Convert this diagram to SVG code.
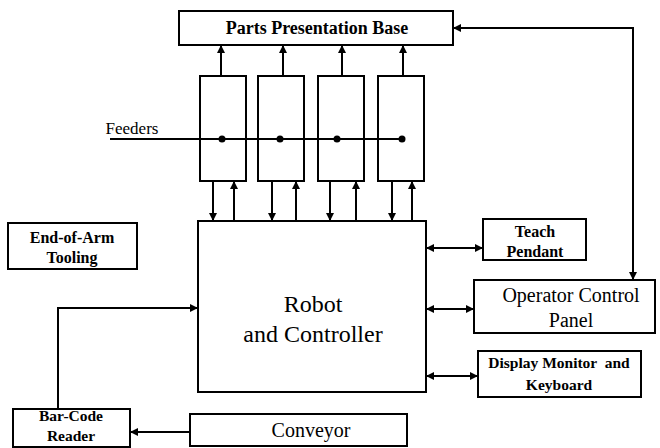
<svg xmlns="http://www.w3.org/2000/svg" width="660" height="448" viewBox="0 0 660 448">
<style>
.box{fill:#fff;stroke:#000;stroke-width:2}
.ln{fill:none;stroke:#000;stroke-width:2}
text{font-family:'Liberation Serif','Times New Roman',serif;font-weight:bold;fill:#000;text-anchor:middle}
.r{font-weight:normal}
</style>
<defs>
<marker id="ah" viewBox="0 0 10 10" refX="10" refY="5" markerWidth="4" markerHeight="4" orient="auto-start-reverse" markerUnits="strokeWidth">
<path d="M0,0 L10,5 L0,10 z" fill="#000"/>
</marker>
</defs>
<rect width="660" height="448" fill="#fff"/>
<g id="ppb"><rect class="box" x="179" y="11" width="274" height="34"/><text x="317" y="34" font-size="18">Parts Presentation Base</text></g>
<g id="feeder1"><rect class="box" x="200" y="76" width="46" height="105"/></g>
<g id="feeder2"><rect class="box" x="258" y="76" width="46" height="105"/></g>
<g id="feeder3"><rect class="box" x="318" y="76" width="46" height="105"/></g>
<g id="feeder4"><rect class="box" x="378" y="76" width="46" height="105"/></g>
<g id="feeders-label"><text class="r" x="132" y="134" font-size="17">Feeders</text></g>
<g id="robot"><rect class="box" x="198" y="221" width="228" height="171"/><text class="r" x="313" y="312" font-size="24">Robot</text><text class="r" x="313" y="342" font-size="24">and Controller</text></g>
<g id="eoat"><rect class="box" x="8" y="223" width="129" height="46"/><text x="72" y="243" font-size="16">End-of-Arm</text><text x="72" y="263" font-size="16">Tooling</text></g>
<g id="teach"><rect class="box" x="483" y="219" width="103" height="41"/><text x="535" y="237" font-size="16">Teach</text><text x="535" y="257" font-size="16">Pendant</text></g>
<g id="ocp"><rect class="box" x="474" y="280" width="181" height="53"/><text class="r" x="571" y="302" font-size="20">Operator Control</text><text class="r" x="571" y="327" font-size="20">Panel</text></g>
<g id="display"><rect class="box" x="478" y="351" width="163" height="46"/><text x="559" y="368" font-size="15.5" xml:space="preserve">Display Monitor  and</text><text x="559" y="390" font-size="15.5">Keyboard</text></g>
<g id="barcode"><rect class="box" x="13" y="409" width="117" height="38"/><text x="71" y="421" font-size="15.5">Bar-Code</text><text x="71" y="441" font-size="15.5">Reader</text></g>
<g id="conveyor"><rect class="box" x="190" y="414" width="217" height="32"/><text class="r" x="311" y="437" font-size="20">Conveyor</text></g>
<g id="connectors">
<line class="ln" x1="221" y1="76" x2="221" y2="45" marker-end="url(#ah)"/>
<line class="ln" x1="283" y1="76" x2="283" y2="45" marker-end="url(#ah)"/>
<line class="ln" x1="342" y1="76" x2="342" y2="45" marker-end="url(#ah)"/>
<line class="ln" x1="403" y1="76" x2="403" y2="45" marker-end="url(#ah)"/>
<line class="ln" x1="110" y1="139" x2="402" y2="139"/>
<circle cx="222" cy="139" r="3.5"/><circle cx="280" cy="139" r="3.5"/><circle cx="337" cy="139" r="3.5"/><circle cx="402" cy="139" r="3.5"/>
<line class="ln" x1="213" y1="181" x2="213" y2="221" marker-end="url(#ah)"/>
<line class="ln" x1="234" y1="221" x2="234" y2="181" marker-end="url(#ah)"/>
<line class="ln" x1="272" y1="181" x2="272" y2="221" marker-end="url(#ah)"/>
<line class="ln" x1="296" y1="221" x2="296" y2="181" marker-end="url(#ah)"/>
<line class="ln" x1="330" y1="181" x2="330" y2="221" marker-end="url(#ah)"/>
<line class="ln" x1="356" y1="221" x2="356" y2="181" marker-end="url(#ah)"/>
<line class="ln" x1="392" y1="181" x2="392" y2="221" marker-end="url(#ah)"/>
<line class="ln" x1="412" y1="221" x2="412" y2="181" marker-end="url(#ah)"/>
<polyline class="ln" points="633,280 633,28 453,28" marker-start="url(#ah)" marker-end="url(#ah)"/>
<line class="ln" x1="426" y1="248" x2="483" y2="248" marker-start="url(#ah)" marker-end="url(#ah)"/>
<line class="ln" x1="426" y1="309" x2="474" y2="309" marker-start="url(#ah)" marker-end="url(#ah)"/>
<line class="ln" x1="426" y1="376" x2="478" y2="376" marker-start="url(#ah)" marker-end="url(#ah)"/>
<polyline class="ln" points="58,409 58,308 198,308" marker-end="url(#ah)"/>
<line class="ln" x1="190" y1="432" x2="130" y2="432" marker-end="url(#ah)"/>
</g>
</svg>
